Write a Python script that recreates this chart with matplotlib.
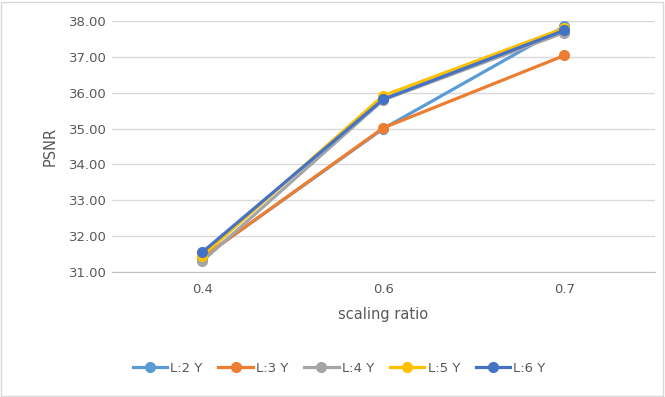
import matplotlib.pyplot as plt
from matplotlib.patches import Rectangle

categories = ["0.4", "0.6", "0.7"]
series_names = ["L:2 Y", "L:3 Y", "L:4 Y", "L:5 Y", "L:6 Y"]
l2 = [31.40, 35.00, 37.85]
l3 = [31.40, 35.02, 37.04]
l4 = [31.30, 35.80, 37.68]
l5 = [31.45, 35.92, 37.80]
l6 = [31.55, 35.82, 37.74]
series_values = [l2, l3, l4, l5, l6]
colors = ["#5B9BD5", "#ED7D31", "#A5A5A5", "#FFC000", "#4472C4"]
yticks = [31, 32, 33, 34, 35, 36, 37, 38]

fig = plt.figure(figsize=(6.65, 3.97), dpi=100)
fig.patches.append(Rectangle((0.002, 0.003), 0.995, 0.993, transform=fig.transFigure,
                             fill=False, edgecolor="#D9D9D9", linewidth=1))
ax = fig.add_axes([0.168, 0.315, 0.817, 0.632])

x = list(range(len(categories)))
for name, vals, c in zip(series_names, series_values, colors):
    ax.plot(x, vals, color=c, linewidth=2.3, marker="o", markersize=7, label=name)

ax.set_xlim(-0.5, len(categories) - 0.5)
ax.set_ylim(31, 38)
ax.set_yticks(yticks)
ax.set_yticklabels([f"{v:.2f}" for v in yticks])
ax.set_xticks(x)
ax.set_xticklabels(categories)
ax.grid(axis="y", color="#D9D9D9", linewidth=1)
ax.set_axisbelow(True)
for s in ["top", "right", "left"]:
    ax.spines[s].set_visible(False)
ax.spines["bottom"].set_color("#BFBFBF")
ax.tick_params(axis="both", length=0, colors="#595959", labelsize=9.5)
ax.tick_params(axis="x", pad=8)
ax.set_xlabel("scaling ratio", color="#595959", fontsize=10.5, labelpad=8)
ax.set_ylabel("PSNR", color="#595959", fontsize=10.5, labelpad=8)

leg = fig.legend(loc="center", bbox_to_anchor=(0.51, 0.073), ncol=5, frameon=False,
                 fontsize=9.5, handlelength=2.6, columnspacing=1.2, handletextpad=0.25)
for t in leg.get_texts():
    t.set_color("#595959")

fig.savefig("out.png", dpi=100)
